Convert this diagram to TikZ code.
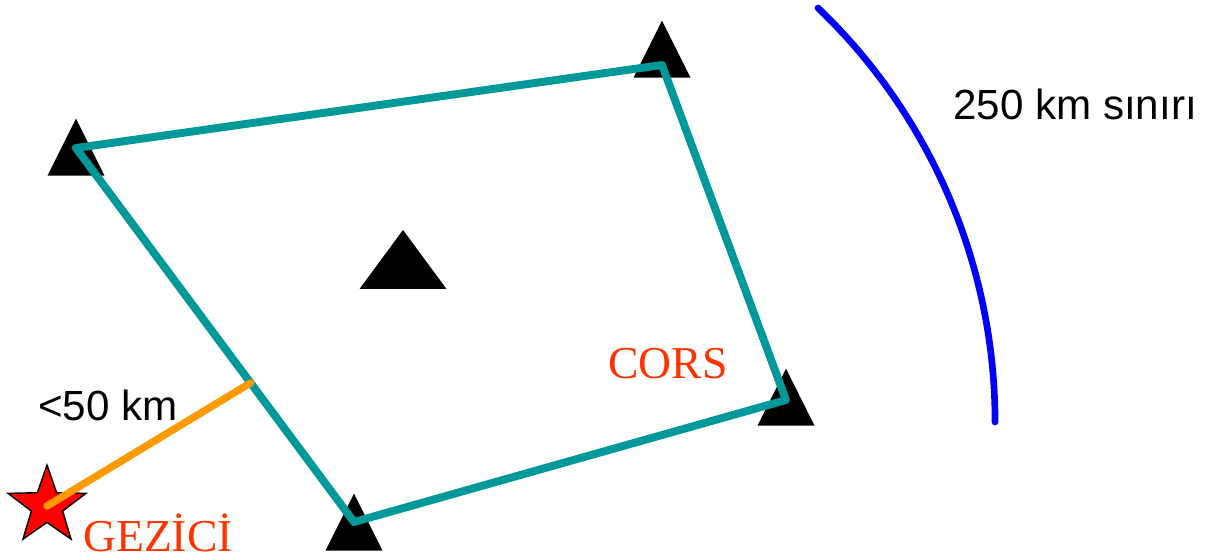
\documentclass[tikz,border=0pt]{standalone}
\usepackage{fontspec}
\setmainfont{Liberation Serif}
\setsansfont{Liberation Sans}
\usetikzlibrary{shapes.geometric,calc}

\definecolor{corsteal}{HTML}{009999}
\definecolor{baseorange}{HTML}{FF9900}
\definecolor{labelred}{HTML}{FF3300}

\begin{document}
\begin{tikzpicture}[
  x=0.02cm, y=-0.02cm,
  station/.style={isosceles triangle, isosceles triangle stretches, shape border rotate=90,
    fill=black, inner sep=0pt, minimum width=1.14cm, minimum height=1.14cm},
  rover/.style={star, star points=5, star point ratio=2.5, draw=black, thick, fill=red,
    inner sep=0pt, minimum size=1.64cm},
  net/.style={line width=4.5pt, corsteal, line join=round},
  lbl/.style={font=\sffamily\fontsize{24}{28}\selectfont, inner sep=0pt},
  tag/.style={font=\rmfamily\fontsize{26}{30}\selectfont, text=labelred, inner sep=0pt}
]
  \useasboundingbox (0,0) rectangle (1207,560);

  % stations
  \node[station] (t1) at (76,158) {};
  \node[station] (t2) at (662,60) {};
  \node[station] (t3) at (786,408) {};
  \node[station] (t4) at (354,533) {};
  \node[station, minimum width=1.74cm, minimum height=1.18cm] (t0) at (403,267) {};
  \node[rover] (rov) at (47,506) {};

  \coordinate (v1) at (76,148);
  \coordinate (v2) at (662,65);
  \coordinate (v3) at (786,400);
  \coordinate (v4) at (354,522);
  \coordinate (foot) at ($(v1)!0.628!(v4)$);

  % network
  \draw[net] (v1) -- (v2) -- (v3) -- (v4) -- cycle;
  \draw[line width=4.2pt, baseorange, line cap=round] (rov.center) -- (foot);

  % range limit
  \draw[line width=3.8pt, blue, line cap=round] (818,8) arc[start angle=-46.3, end angle=0, radius=572.7];

  \node[lbl] (lim) at (1075,104) {250 km sınırı};
  \node[lbl] (dist) at (108,405) {<50 km};
  \node[tag] (cors) at (668,364) {CORS};
  \node[tag] (gez) at (158,533) {GEZİCİ};
\end{tikzpicture}
\end{document}
